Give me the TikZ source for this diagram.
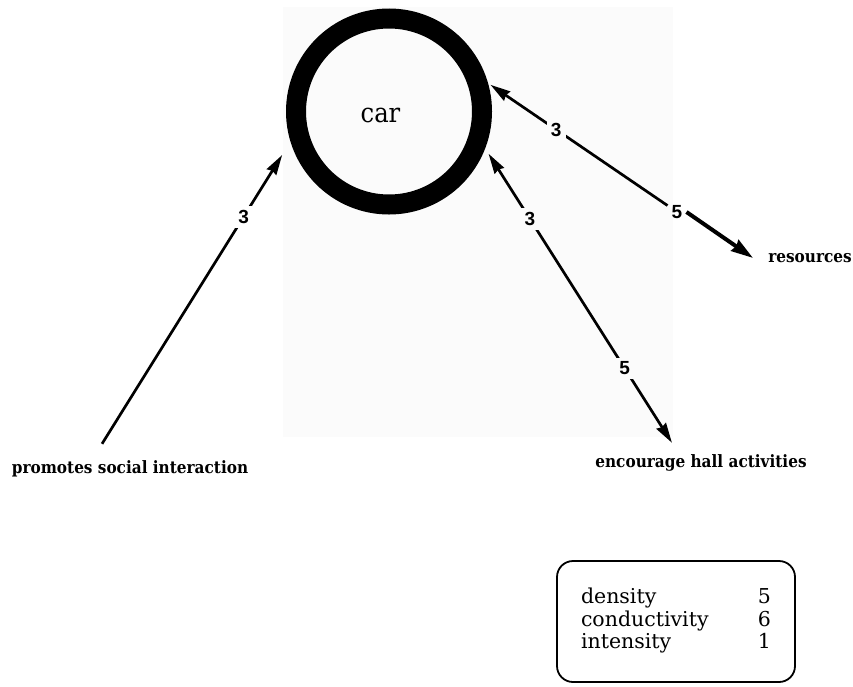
\documentclass[tikz,border=0pt]{standalone}
\usepackage{fontspec}
\setmainfont{DejaVu Serif}
\newfontfamily\tallserif{DejaVu Serif}[FakeStretch=0.9]
\newfontfamily\digitfont{Liberation Sans}
\usetikzlibrary{arrows.meta}
\definecolor{paper}{gray}{0.984}
\tikzset{
  hubtip/.tip={Stealth[length=20pt, width=11pt, inset=1.5pt]},
  bigtip/.tip={Stealth[length=22pt, width=13pt, inset=1.5pt]},
  hub/.style={circle, draw, line width=20pt, minimum size=186pt, inner sep=0pt,
    font=\tallserif\fontsize{27}{32}\selectfont},
  term/.style={inner sep=0pt, text height=11pt, text depth=3pt, anchor=base,
    font=\tallserif\bfseries\fontsize{17}{20}\selectfont},
  weight/.style={inner sep=4pt, font=\digitfont\bfseries\fontsize{19}{22}\selectfont},
  link/.style={line width=2.7pt, -{hubtip}},
  keybox/.style={draw, line width=1.8pt, rounded corners=16pt, minimum width=238pt,
    minimum height=121pt, inner sep=0pt, font=\fontsize{20.5}{22}\selectfont}
}
\begin{document}
\begin{tikzpicture}[x=1pt, y=-1pt]
  \useasboundingbox (0,0) rectangle (853,686);
  % faint backing sheet behind the hub
  \fill[paper] (283,7) rectangle (673,437);

  % hub and its terms
  \node[hub] (car) at (389,111.5) {\raisebox{-4pt}[\height][\depth]{car}\kern17pt};
  \node[term] (psi) at (130,473) {promotes social interaction};
  \node[term] (res) at (810,262) {resources};
  \node[term] (eha) at (701,467) {encourage hall activities};
  \node[weight] (r5) at (677,212) {5};

  % connectors
  \draw[link, shorten <=21.2pt, shorten >=15.8pt]
    ([xshift=-39.2pt]psi.north) -- node[weight, fill=white, pos=.765] {3} (car.197);
  \draw[link, shorten >=3pt]
    (r5) -- node[weight, fill=paper, pos=.62] {3} (car.16);
  \draw[line width=4pt, -{bigtip}] (r5.east) -- ([xshift=-15pt]res.west);
  \draw[link, {hubtip}-{hubtip}, shorten <=6.4pt, shorten >=15.4pt]
    (car.-21) -- node[weight, fill=paper, pos=.23] {3}
                 node[weight, fill=paper, pos=.715] {5} ([xshift=-20.8pt]eha.north);

  % legend
  \node[keybox] (key) at (676,621.5) {%
    \begin{tabular*}{190pt}{@{}l@{\extracolsep{\fill}}r@{}}
      density & 5\\
      conductivity & 6\\
      intensity & 1
    \end{tabular*}};
\end{tikzpicture}
\end{document}
